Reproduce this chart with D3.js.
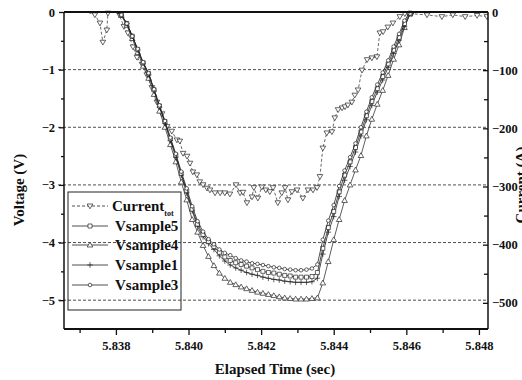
<!DOCTYPE html>
<html><head><meta charset="utf-8">
<script src="https://cdn.jsdelivr.net/npm/d3@7"></script>
<style>body{margin:0;background:#fff}svg{display:block}text{font-family:"Liberation Serif","Times New Roman",serif;font-weight:bold;fill:#111}</style>
</head><body><svg id="c" width="522" height="380"></svg>
<script>
const vTime = [5.8366,5.8380,5.83815,5.8383,5.83845,5.8386,5.83875,5.8389,5.83905,5.8392,5.83935,5.8395,5.83965,5.8398,5.83995,5.8401,5.84025,5.8404,5.84055,5.8407,5.84085,5.8410,5.84115,5.8413,5.84145,5.8416,5.84175,5.8419,5.84205,5.8422,5.84235,5.8425,5.84265,5.8428,5.84295,5.8431,5.84325,5.8434,5.84355,5.8437,5.84385,5.8440,5.84415,5.8443,5.84445,5.8446,5.84475,5.8449,5.84505,5.8452,5.84535,5.8455,5.84565,5.8458,5.84595,5.8461,5.84625,5.8482];
const vsample5 = [0,0,-0.05,-0.2,-0.42,-0.65,-0.88,-1.07,-1.35,-1.63,-1.90,-2.2,-2.48,-2.8,-3.1,-3.42,-3.68,-3.86,-3.98,-4.07,-4.17,-4.25,-4.31,-4.35,-4.38,-4.41,-4.44,-4.47,-4.50,-4.52,-4.53,-4.55,-4.57,-4.58,-4.60,-4.60,-4.60,-4.59,-4.52,-4.1,-3.74,-3.46,-3.12,-2.83,-2.6,-2.35,-2.08,-1.8,-1.55,-1.33,-1.12,-0.9,-0.66,-0.44,-0.2,-0.02,0,0];
const vsample3 = [0,0,-0.05,-0.2,-0.42,-0.64,-0.87,-1.06,-1.34,-1.62,-1.89,-2.18,-2.46,-2.77,-3.06,-3.37,-3.63,-3.81,-3.94,-4.03,-4.12,-4.18,-4.22,-4.27,-4.31,-4.33,-4.36,-4.37,-4.39,-4.41,-4.43,-4.44,-4.46,-4.47,-4.48,-4.48,-4.47,-4.45,-4.38,-3.95,-3.62,-3.35,-3.02,-2.75,-2.52,-2.28,-2.0,-1.73,-1.48,-1.26,-1.05,-0.84,-0.6,-0.38,-0.15,0,0,0];
const vsample1 = [0,0,-0.05,-0.2,-0.42,-0.66,-0.89,-1.09,-1.37,-1.65,-1.93,-2.23,-2.52,-2.83,-3.14,-3.45,-3.72,-3.9,-4.02,-4.12,-4.23,-4.32,-4.39,-4.44,-4.48,-4.52,-4.55,-4.57,-4.60,-4.62,-4.64,-4.65,-4.67,-4.68,-4.69,-4.69,-4.69,-4.68,-4.62,-4.2,-3.82,-3.55,-3.2,-2.92,-2.68,-2.43,-2.15,-1.87,-1.62,-1.39,-1.18,-0.96,-0.72,-0.49,-0.25,-0.04,0,0];
const vsample4 = [0,0,-0.06,-0.23,-0.46,-0.70,-0.94,-1.15,-1.43,-1.72,-2.0,-2.3,-2.6,-2.95,-3.26,-3.6,-3.82,-4.05,-4.24,-4.4,-4.53,-4.62,-4.69,-4.73,-4.77,-4.80,-4.83,-4.86,-4.88,-4.90,-4.92,-4.94,-4.96,-4.97,-4.98,-4.98,-4.98,-4.97,-4.96,-4.7,-4.33,-3.95,-3.6,-3.27,-3.0,-2.74,-2.49,-2.15,-1.86,-1.6,-1.36,-1.1,-0.82,-0.57,-0.27,-0.03,0,0];
const iTime = [5.8367,5.8372,5.83742,5.83756,5.83764,5.83775,5.83778,5.83789,5.83797,5.83808,5.83822,5.83833,5.83847,5.83858,5.83872,5.83885,5.83899,5.83913,5.83927,5.83941,5.83954,5.83968,5.83976,5.83985,5.83996,5.84004,5.84012,5.84023,5.84031,5.8404,5.84051,5.84059,5.84073,5.84087,5.841,5.84114,5.84131,5.84142,5.8415,5.84161,5.84175,5.8418,5.84191,5.84202,5.84213,5.84224,5.84233,5.84246,5.84257,5.84266,5.84274,5.84285,5.84299,5.84315,5.84329,5.84343,5.84354,5.84362,5.8437,5.84381,5.84395,5.84403,5.84412,5.84423,5.84431,5.84439,5.8445,5.84458,5.84467,5.84478,5.84492,5.84505,5.84519,5.84527,5.84536,5.84549,5.84563,5.84582,5.84596,5.84615,5.84657,5.84698,5.84728,5.84762,5.84795,5.84822];
const currentTot = [0,0,-5,-19,-52,-31,-2,0,0,-3,-25,-36,-60,-78,-90,-108,-130,-155,-175,-197,-205,-220,-222,-243,-248,-260,-275,-280,-292,-297,-303,-306,-311,-311,-311,-313,-297,-311,-310,-328,-318,-302,-320,-301,-306,-309,-302,-328,-311,-302,-323,-309,-306,-320,-306,-306,-302,-283,-234,-208,-206,-182,-168,-165,-163,-160,-155,-143,-134,-100,-82,-79,-77,-36,-34,-26,-19,-8,-3,-3,-5,-8,-5,-8,-6,-8];
const xTicks = [5.838,5.840,5.842,5.844,5.846,5.848];
const yTicks = [0,-1,-2,-3,-4,-5];
const yRTicks = [0,-100,-200,-300,-400,-500];
const legendLabels = ["Current","Vsample5","Vsample4","Vsample1","Vsample3"];

const svg = d3.select("#c");
const L=64,R=488,T=12,B=329;
const x = d3.scaleLinear().domain([5.83657,5.84825]).range([L,R]);
const y = d3.scaleLinear().domain([-5.5,0]).range([B,T]);
const yR = d3.scaleLinear().domain([-545,0]).range([B,T]);

// gridlines
svg.append("g").selectAll("line").data(yTicks.filter(d=>d!==0)).join("line")
 .attr("x1",L-6).attr("x2",R).attr("y1",d=>y(d)).attr("y2",d=>y(d))
 .attr("stroke","#222").attr("stroke-width",0.8).attr("stroke-dasharray","3,2");

const clip = svg.append("clipPath").attr("id","pc").append("rect").attr("x",L).attr("y",T-4).attr("width",R-L).attr("height",B-T+4);
const plot = svg.append("g").attr("clip-path","url(#pc)");

function markers(g, data, shape){
  const s = g.selectAll("path.m").data(data).join("path").attr("class","m")
   .attr("transform",d=>`translate(${d[0]},${d[1]})`)
   .attr("fill",shape==="dot"?"#fff":"#fff").attr("stroke","#222").attr("stroke-width",0.7);
  const p = {
    tdown:"M-2.8,-2L2.8,-2L0,2.8Z",
    tup:"M-2.8,2L2.8,2L0,-2.8Z",
    sq:"M-2,-2H2V2H-2Z",
    plus:"M-2.8,0H2.8M0,-2.8V2.8",
    dot:"M-1.8,0A1.8,1.8 0 1,0 1.8,0A1.8,1.8 0 1,0 -1.8,0Z"
  }[shape];
  s.attr("d",p);
}
const line = d3.line();
function series(times, vals, sc, shape, dash, color){
  const pts = times.map((t,i)=>[x(t),sc(vals[i])]);
  const g = plot.append("g");
  g.append("path").attr("d",line(pts)).attr("fill","none").attr("stroke",color).attr("stroke-width",0.8)
   .attr("stroke-dasharray",dash||null);
  const mp = pts.filter((p,i)=>vals[i]!==0);
  markers(g, mp, shape);
}
series(iTime,currentTot,yR,"tdown","3,2","#444");
series(vTime,vsample4,y,"tup",null,"#333");
series(vTime,vsample1,y,"plus",null,"#222");
series(vTime,vsample5,y,"sq",null,"#222");
series(vTime,vsample3,y,"dot",null,"#222");

// frame
svg.append("line").attr("x1",L).attr("x2",R).attr("y1",T).attr("y2",T).attr("stroke","#111").attr("stroke-width",2.2);
svg.append("line").attr("x1",L).attr("x2",R).attr("y1",B).attr("y2",B).attr("stroke","#111").attr("stroke-width",2);
svg.append("line").attr("x1",L).attr("x2",L).attr("y1",T).attr("y2",B).attr("stroke","#111").attr("stroke-width",1.5);
svg.append("line").attr("x1",R).attr("x2",R).attr("y1",T).attr("y2",B).attr("stroke","#111").attr("stroke-width",1.5);

// bottom axis
const gx = svg.append("g").attr("transform",`translate(0,${B})`)
 .call(d3.axisBottom(x).tickValues(xTicks).tickFormat(d3.format(".3f")).tickSize(6).tickPadding(6));
gx.append("g").call(d3.axisBottom(x).tickValues(xTicks.slice(0,-1).map(d=>d+0.001).concat([5.837])).tickSize(4).tickFormat(""));
// left axis
const gy = svg.append("g").attr("transform",`translate(${L},0)`)
 .call(d3.axisLeft(y).tickValues(yTicks).tickFormat(d3.format("d")).tickSize(5).tickPadding(4));
gy.append("g").call(d3.axisLeft(y).tickValues([-0.5,-1.5,-2.5,-3.5,-4.5]).tickSize(3).tickFormat(""));
// right axis (ticks inward)
const gr = svg.append("g").attr("transform",`translate(${R},0)`)
 .call(d3.axisRight(yR).tickValues(yRTicks).tickFormat(d3.format("d")).tickSize(-5).tickPadding(4));
gr.append("g").call(d3.axisRight(yR).tickValues([-50,-150,-250,-350,-450]).tickSize(-4).tickFormat(""));
gr.selectAll("text").attr("x",4);
svg.selectAll(".domain").remove();
svg.selectAll(".tick line").attr("stroke","#111").attr("stroke-width",1.3);
svg.selectAll(".tick text").style("font-size","12.5px").style("font-family",'"Liberation Serif",serif').style("font-weight","bold").attr("fill","#111");

// axis titles
svg.append("text").attr("transform","translate(24,190) rotate(-90)").attr("text-anchor","middle").style("font-size","15px").text("Voltage (V)");
svg.append("text").attr("transform","translate(526,185) rotate(-90)").attr("text-anchor","middle").style("font-size","15px").text("Current (A)");
svg.append("text").attr("x",275).attr("y",374).attr("text-anchor","middle").style("font-size","15px").text("Elapsed Time (sec)");

// legend
const lg = svg.append("g");
lg.append("rect").attr("x",68).attr("y",192).attr("width",113).attr("height",118).attr("fill","none").attr("stroke","#222").attr("stroke-width",1);
const rows = [206,226,245,265,285];
const shapes = ["tdown","sq","tup","plus","dot"];
const dashes = ["3,2",null,null,null,null];
legendLabels.forEach((lab,i)=>{
  const g = lg.append("g");
  g.append("line").attr("x1",72).attr("x2",108).attr("y1",rows[i]).attr("y2",rows[i]).attr("stroke","#222").attr("stroke-width",0.8).attr("stroke-dasharray",dashes[i]);
  markers(g,[[90,rows[i]]],shapes[i]);
  const t = g.append("text").attr("x",i===0?112:115).attr("y",rows[i]+5).style("font-size","15px").text(lab);
  if(i===0) t.append("tspan").attr("dy",5).style("font-size","8px").text("tot");
});
</script></body></html>
